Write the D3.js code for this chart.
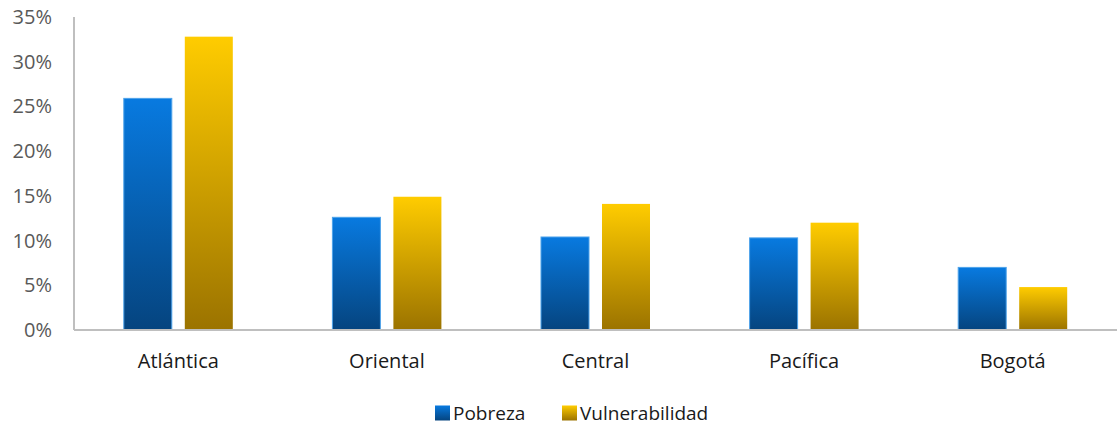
<!DOCTYPE html>
<html>
<head>
<meta charset="utf-8">
<script src="https://cdn.jsdelivr.net/npm/d3@7"></script>
<style>
  body { margin: 0; background: #fff; }
  text { font-family: "Open Sans", Carlito, Calibri, sans-serif; }
</style>
</head>
<body>
<div id="chart"></div>
<script>
// data
const regions = ["Atlántica", "Oriental", "Central", "Pacífica", "Bogotá"];
const pobreza = [25.9, 12.6, 10.4, 10.3, 7.0];
const vulnerabilidad = [32.8, 14.9, 14.1, 12.0, 4.8];
const seriesNames = ["Pobreza", "Vulnerabilidad"];
const yTicks = [0, 5, 10, 15, 20, 25, 30, 35];

const width = 1119, height = 425;
const margin = {top: 17, right: 2, bottom: 95, left: 74};

const svg = d3.select("#chart").append("svg")
    .attr("width", width)
    .attr("height", height);

// gradients
const defs = svg.append("defs");
function grad(id, top, bottom) {
    let g = defs.append("linearGradient")
        .attr("id", id)
        .attr("x1", 0).attr("y1", 0).attr("x2", 0).attr("y2", 1);
    g.append("stop").attr("offset", "0%").attr("stop-color", top);
    g.append("stop").attr("offset", "100%").attr("stop-color", bottom);
}
grad("gBlue", "#087ae0", "#05447f");
grad("gGold", "#ffcc00", "#9b7300");

const fills = {"Pobreza": "url(#gBlue)", "Vulnerabilidad": "url(#gGold)"};
const strokes = {"Pobreza": "#4ea3ea", "Vulnerabilidad": "none"};

const x = d3.scaleBand()
    .domain(regions)
    .range([margin.left, width - margin.right]);

const groupW = 109;
const x1 = d3.scaleBand()
    .domain(seriesNames)
    .range([(x.bandwidth() - groupW) / 2, (x.bandwidth() + groupW) / 2])
    .paddingInner(0.213);

const y = d3.scaleLinear()
    .domain([0, 35])
    .range([height - margin.bottom, margin.top]);

// y tick labels
svg.append("g")
    .selectAll("text")
    .data(yTicks)
    .join("text")
    .attr("x", 52)
    .attr("y", d => y(d))
    .attr("dy", "0.35em")
    .attr("text-anchor", "end")
    .attr("fill", "#595959")
    .style("font-size", "20px")
    .text(d => d + "%");

// bars
const rows = regions.map((r, i) => ({region: r, values: [
    {key: "Pobreza", value: pobreza[i]},
    {key: "Vulnerabilidad", value: vulnerabilidad[i]}
]}));

svg.append("g")
    .selectAll("g")
    .data(rows)
    .join("g")
    .attr("transform", d => "translate(" + x(d.region) + ",0)")
    .selectAll("rect")
    .data(d => d.values)
    .join("rect")
    .attr("x", d => x1(d.key))
    .attr("y", d => y(d.value))
    .attr("width", x1.bandwidth())
    .attr("height", d => y(0) - y(d.value))
    .attr("fill", d => fills[d.key])
    .attr("stroke", d => strokes[d.key])
    .attr("stroke-width", 1);

// axis lines
svg.append("line")
    .attr("x1", margin.left).attr("x2", margin.left)
    .attr("y1", margin.top).attr("y2", y(0))
    .attr("stroke", "#bfbfbf").attr("stroke-width", 2);
svg.append("line")
    .attr("x1", margin.left).attr("x2", width - margin.right)
    .attr("y1", y(0)).attr("y2", y(0))
    .attr("stroke", "#bfbfbf").attr("stroke-width", 2);

// category labels
svg.append("g")
    .selectAll("text")
    .data(regions)
    .join("text")
    .attr("x", d => x(d) + x.bandwidth() / 2)
    .attr("y", 361)
    .attr("dy", "0.35em")
    .attr("text-anchor", "middle")
    .attr("fill", "#1a1a1a")
    .style("font-size", "20px")
    .text(d => d);

// legend
const legendPos = [435, 562];
const legend = svg.append("g")
    .selectAll("g")
    .data(seriesNames)
    .join("g")
    .attr("transform", (d, i) => "translate(" + legendPos[i] + ",413)");
legend.append("rect")
    .attr("x", 0).attr("y", -7.5)
    .attr("width", 15).attr("height", 15)
    .attr("fill", d => fills[d]);
legend.append("text")
    .attr("x", 18)
    .attr("dy", "0.35em")
    .attr("fill", "#1a1a1a")
    .style("font-size", "19px")
    .text(d => d);
</script>
</body>
</html>
